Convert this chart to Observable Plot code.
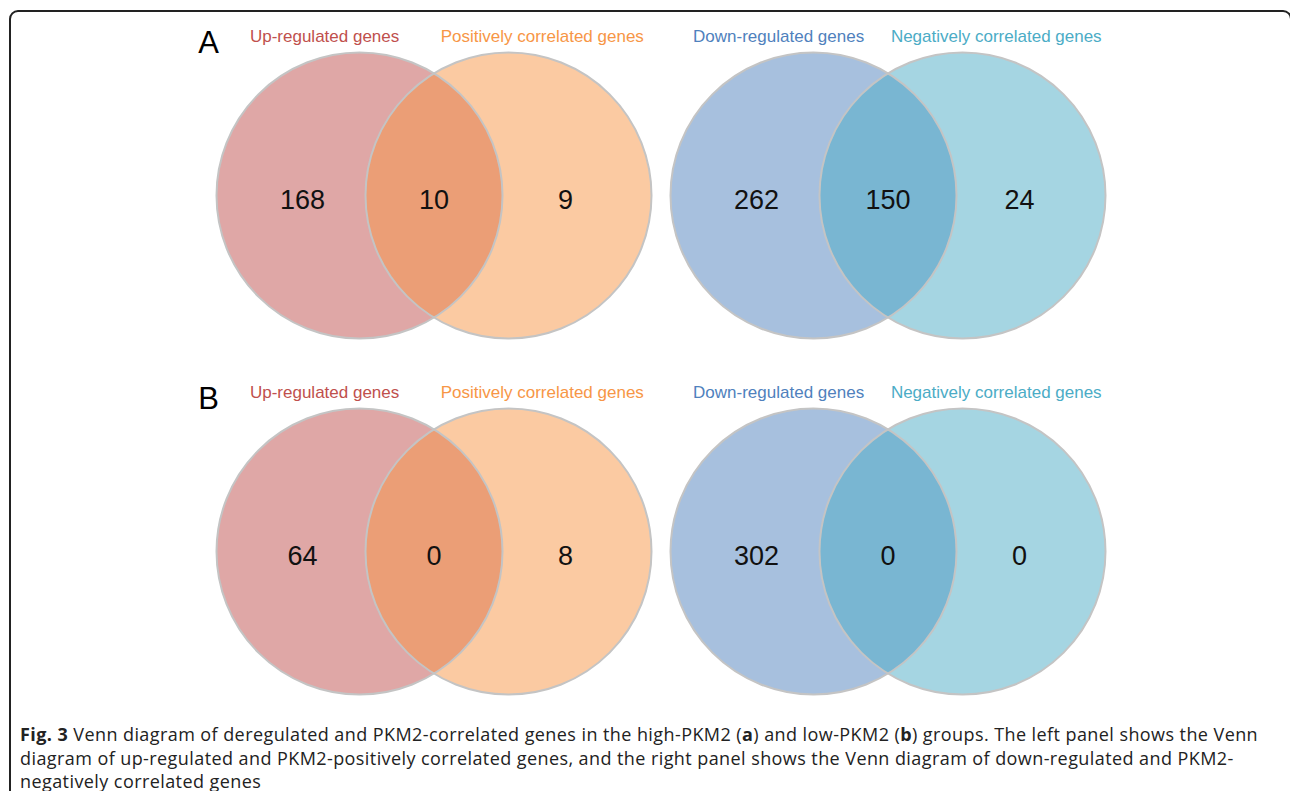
<!DOCTYPE html>
<html><head><meta charset="utf-8">
<script src="https://cdn.jsdelivr.net/npm/d3@7"></script>
<script src="https://cdn.jsdelivr.net/npm/@observablehq/plot@0.6"></script>
<style>
body{margin:0;background:#fff;width:1290px;height:791px;overflow:hidden;position:relative;}
#frame{position:absolute;left:9px;top:10px;width:1283px;height:820px;border:2px solid #222;border-radius:9px;box-sizing:border-box;}
#chart{position:absolute;left:0;top:0;}
#caption{position:absolute;left:20px;top:723px;width:1265px;font-family:"Open Sans",sans-serif;font-size:18px;letter-spacing:0.42px;line-height:23.5px;color:#222;white-space:nowrap;}
</style></head><body>
<div id="frame"></div>
<div id="chart"></div>
<div id="caption"><b>Fig. 3</b> Venn diagram of deregulated and PKM2-correlated genes in the high-PKM2 (<b>a</b>) and low-PKM2 (<b>b</b>) groups. The left panel shows the Venn<br>diagram of up-regulated and PKM2-positively correlated genes, and the right panel shows the Venn diagram of down-regulated and PKM2-<br>negatively correlated genes</div>
<script>
// ---- data ----
const panels = ["A", "B"];
const pairs = ["up", "down"];
const firstSetNames = ["Up-regulated genes", "Down-regulated genes"];
const secondSetNames = ["Positively correlated genes", "Negatively correlated genes"];
const firstSetColors = ["#C0504D", "#4F81BD"];
const secondSetColors = ["#F79646", "#4BACC6"];
const regions = ["first only", "both", "second only"];
const countsA = [[168, 10, 9], [262, 150, 24]];
const countsB = [[64, 0, 8], [302, 0, 0]];
const countsByPanel = [countsA, countsB];

// ---- layout (units: circle radius = 1) ----
const K = 143;              // pixels per unit
const W = 1290, H = 715;
const D = 149 / K;          // distance between circle centres
const pairStep = 454 / K;   // horizontal distance between the two diagrams
const rowStep = 356 / K;    // vertical distance between panel A and B
const regionOffset = [-0.92, 0, 0.92];
const x0 = 433.5 / K, y0 = 195 / K;

const circles = [], texts = [], labels = [], letters = [];
panels.forEach((panel, pi) => {
  letters.push({x: -1.577, y: pi * rowStep - 1.063, text: panel});
  pairs.forEach((pair, qi) => {
    const cx = qi * pairStep, cy = pi * rowStep;
    circles.push({x: cx - D / 2, y: cy, color: firstSetColors[qi]});
    circles.push({x: cx + D / 2, y: cy, color: secondSetColors[qi]});
    labels.push({x: cx - 0.765, y: cy - 1.11, text: firstSetNames[qi], color: firstSetColors[qi]});
    labels.push({x: cx + 0.757, y: cy - 1.11, text: secondSetNames[qi], color: secondSetColors[qi]});
    regions.forEach((r, ri) => {
      texts.push({x: cx + regionOffset[ri], y: cy + 0.033, text: String(countsByPanel[pi][qi][ri])});
    });
  });
});

const chart = Plot.plot({
  width: W, height: H,
  margin: 0,
  x: {domain: [-x0, (W / K) - x0], range: [0, W], axis: null},
  y: {domain: [-y0, (H / K) - y0], range: [0, H], axis: null},
  color: {type: "identity"},
  style: {fontFamily: "'Liberation Sans', Arial, sans-serif", background: "transparent", overflow: "visible"},
  marks: [
    Plot.dot(circles, {x: "x", y: "y", r: K, fill: "color", fillOpacity: 0.5, stroke: "none"}),
    Plot.dot(circles, {x: "x", y: "y", r: K, fill: "none", stroke: "#c4c4c4", strokeWidth: 2}),
    Plot.text(texts, {x: "x", y: "y", text: "text", fontSize: 27, fill: "#111"}),
    Plot.text(labels, {x: "x", y: "y", text: "text", fontSize: 17, fill: "color"}),
    Plot.text(letters, {x: "x", y: "y", text: "text", fontSize: 31, fill: "#000"})
  ]
});
document.getElementById("chart").appendChild(chart);
</script>
</body></html>
